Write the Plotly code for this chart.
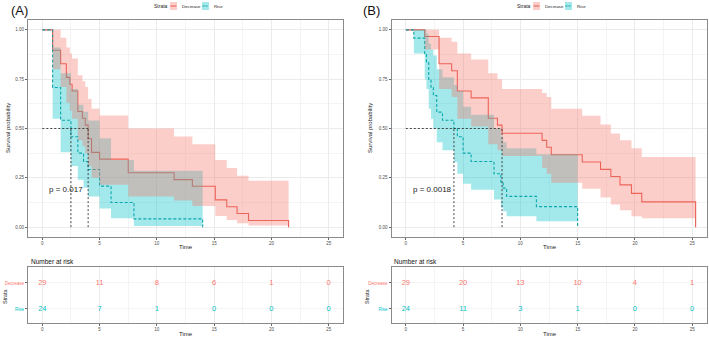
import plotly.graph_objects as go

# ---------------- data ----------------
# Panel A
A_dec_t  = [0, 0.9, 1.6, 2.1, 2.4, 2.6, 3.1, 3.5, 3.75, 4.0, 4.3, 5.0, 7.5, 11.5, 13.1, 15.1, 16.1, 17.0, 18.0, 21.5]
A_dec_s  = [1.0, 0.897, 0.828, 0.759, 0.724, 0.690, 0.586, 0.552, 0.517, 0.448, 0.379, 0.345, 0.276, 0.241, 0.207, 0.138, 0.103, 0.069, 0.034, 0.0]
A_dec_up = [1.0, 1.0, 0.96, 0.91, 0.88, 0.855, 0.77, 0.74, 0.71, 0.65, 0.60, 0.566, 0.50, 0.46, 0.42, 0.34, 0.30, 0.26, 0.235, 0.235]
A_dec_lo = [1.0, 0.80, 0.71, 0.63, 0.59, 0.55, 0.44, 0.41, 0.375, 0.31, 0.25, 0.215, 0.155, 0.135, 0.107, 0.056, 0.036, 0.02, 0.008, 0.008]

A_rise_t  = [0, 0.9, 1.6, 2.5, 3.1, 3.6, 4.0, 5.0, 6.0, 8.0, 14.0]
A_rise_s  = [1.0, 0.708, 0.542, 0.458, 0.375, 0.333, 0.292, 0.208, 0.125, 0.042, 0.0]
A_rise_up = [1.0, 0.91, 0.78, 0.70, 0.62, 0.585, 0.54, 0.45, 0.34, 0.286, 0.286]
A_rise_lo = [1.0, 0.55, 0.38, 0.31, 0.24, 0.20, 0.155, 0.095, 0.045, 0.006, 0.006]

A_medians = [2.5, 4.0]
A_pval = "p = 0.017"

# Panel B
B_dec_t  = [0, 1.65, 2.9, 4.0, 4.5, 5.7, 7.2, 8.0, 8.4, 11.9, 12.3, 12.7, 15.4, 17.0, 17.9, 18.7, 19.7, 20.6, 25.3]
B_dec_s  = [1.0, 0.966, 0.828, 0.793, 0.690, 0.655, 0.552, 0.517, 0.476, 0.440, 0.405, 0.367, 0.330, 0.293, 0.257, 0.214, 0.171, 0.128, 0.0]
B_dec_up = [1.0, 1.0, 0.96, 0.94, 0.88, 0.85, 0.78, 0.75, 0.70, 0.68, 0.66, 0.60, 0.565, 0.52, 0.475, 0.44, 0.40, 0.355, 0.355]
B_dec_lo = [1.0, 0.90, 0.70, 0.66, 0.55, 0.51, 0.42, 0.39, 0.36, 0.30, 0.27, 0.225, 0.195, 0.15, 0.115, 0.085, 0.055, 0.045, 0.045]

B_rise_t  = [0, 0.7, 1.65, 1.8, 2.0, 2.2, 2.4, 2.7, 3.2, 4.2, 4.5, 5.0, 5.7, 7.7, 8.3, 8.5, 8.8, 11.4, 15.0]
B_rise_s  = [1.0, 0.958, 0.875, 0.833, 0.750, 0.708, 0.667, 0.583, 0.542, 0.500, 0.458, 0.375, 0.333, 0.271, 0.229, 0.198, 0.156, 0.104, 0.0]
B_rise_up = [1.0, 1.0, 1.0, 0.98, 0.93, 0.90, 0.87, 0.80, 0.76, 0.72, 0.69, 0.61, 0.57, 0.50, 0.46, 0.43, 0.40, 0.37, 0.37]
B_rise_lo = [1.0, 0.88, 0.75, 0.70, 0.60, 0.55, 0.50, 0.43, 0.39, 0.33, 0.27, 0.22, 0.19, 0.14, 0.10, 0.08, 0.055, 0.03, 0.03]

B_medians = [4.2, 8.4]
B_pval = "p = 0.0018"

# Risk tables
risk_times = [0, 5, 10, 15, 20, 25]
A_risk_dec  = [29, 11, 8, 6, 1, 0]
A_risk_rise = [24, 7, 1, 0, 0, 0]
B_risk_dec  = [29, 20, 13, 10, 4, 1]
B_risk_rise = [24, 11, 3, 1, 0, 0]

strata = ["Decrease", "Rise"]
x_ticks = [0, 5, 10, 15, 20, 25]
y_ticks = [0, 0.25, 0.5, 0.75, 1.0]
y_ticklabels = ["0.00", "0.25", "0.50", "0.75", "1.00"]

# ---------------- styling ----------------
W, H = 709, 340
def px(x): return x / W
def py(y): return 1 - y / H

RED = '#F8766D'
TEAL = '#00BFC4'
RED_LINE = '#E8594F'
TEAL_LINE = '#0E9CA1'
RED_FILL = 'rgba(248,118,109,0.36)'
TEAL_FILL = 'rgba(0,191,196,0.36)'
FONT = "Liberation Sans, Arial, sans-serif"
GRID = '#EBEBEB'
MINOR = '#F4F4F4'
BORDER = '#8A8A8A'

fig = go.Figure()

def line(xa, ya, t, s, color, dash):
    fig.add_trace(go.Scatter(x=t, y=s, mode='lines', xaxis=xa, yaxis=ya,
                             line=dict(color=color, width=1.1, dash=dash, shape='hv'),
                             showlegend=False, hoverinfo='skip'))

def band(xa, ya, t, up, lo, fill):
    fig.add_trace(go.Scatter(x=t[1:], y=lo[1:], mode='lines', xaxis=xa, yaxis=ya,
                             line=dict(width=0, shape='hv'), showlegend=False, hoverinfo='skip'))
    fig.add_trace(go.Scatter(x=t[1:], y=up[1:], mode='lines', xaxis=xa, yaxis=ya,
                             fill='tonexty', fillcolor=fill,
                             line=dict(width=0, shape='hv'), showlegend=False, hoverinfo='skip'))

def medians(xa, ya, meds):
    fig.add_trace(go.Scatter(x=[0, max(meds)], y=[0.5, 0.5], mode='lines', xaxis=xa, yaxis=ya,
                             line=dict(color='#333333', width=0.9, dash='2px,2px'),
                             showlegend=False, hoverinfo='skip'))
    for m in meds:
        fig.add_trace(go.Scatter(x=[m, m], y=[0, 0.5], mode='lines', xaxis=xa, yaxis=ya,
                                 line=dict(color='#333333', width=0.9, dash='2px,2px'),
                                 showlegend=False, hoverinfo='skip'))

panels = [
    ('x', 'y', 'x2', 'y2', A_dec_t, A_dec_s, A_dec_up, A_dec_lo,
     A_rise_t, A_rise_s, A_rise_up, A_rise_lo, A_medians, A_pval, A_risk_dec, A_risk_rise),
    ('x3', 'y3', 'x4', 'y4', B_dec_t, B_dec_s, B_dec_up, B_dec_lo,
     B_rise_t, B_rise_s, B_rise_up, B_rise_lo, B_medians, B_pval, B_risk_dec, B_risk_rise),
]

for (xa, ya, xr, yr, dt, ds, du, dl, rt, rs, ru, rl, meds, pv, rdec, rrise) in panels:
    line(xa, ya, dt, ds, RED_LINE, 'solid')
    line(xa, ya, rt, rs, TEAL_LINE, '3px,2px')
    band(xa, ya, rt, ru, rl, TEAL_FILL)
    band(xa, ya, dt, du, dl, RED_FILL)
    medians(xa, ya, meds)
    fig.add_annotation(x=0.45, y=0.19, xref=xa, yref=ya, text=pv, showarrow=False,
                       xanchor='left', yanchor='middle', font=dict(size=8, color='#222', family=FONT))
    # risk table
    fig.add_trace(go.Scatter(x=risk_times, y=[2] * len(risk_times), mode='text', xaxis=xr, yaxis=yr,
                             text=[str(v) for v in rdec], textfont=dict(size=7.5, color=RED, family=FONT),
                             showlegend=False, hoverinfo='skip'))
    fig.add_trace(go.Scatter(x=risk_times, y=[1] * len(risk_times), mode='text', xaxis=xr, yaxis=yr,
                             text=[str(v) for v in rrise], textfont=dict(size=7.5, color=TEAL, family=FONT),
                             showlegend=False, hoverinfo='skip'))

XR = [-1.25, 26.25]
common_x = dict(range=XR, tickvals=x_ticks, showgrid=True, gridcolor=GRID, gridwidth=0.8,
                minor=dict(dtick=2.5, showgrid=True, gridcolor=MINOR, gridwidth=0.6),
                showline=True, mirror=True, linecolor=BORDER, linewidth=1,
                ticks='outside', ticklen=2, tickcolor='#666', tickwidth=0.8, automargin=False,
                tickfont=dict(size=4.5, color='#4D4D4D', family=FONT), zeroline=False, fixedrange=True)
common_y = dict(range=[-0.05, 1.05], tickvals=y_ticks, ticktext=y_ticklabels, showgrid=True,
                gridcolor=GRID, gridwidth=0.8,
                minor=dict(tickvals=[0.125, 0.375, 0.625, 0.875], showgrid=True, gridcolor=MINOR, gridwidth=0.6),
                showline=True, mirror=True, linecolor=BORDER, linewidth=1,
                ticks='outside', ticklen=2, tickcolor='#666', tickwidth=0.8, automargin=False,
                tickfont=dict(size=4.5, color='#4D4D4D', family=FONT), zeroline=False, fixedrange=True)
risk_y = dict(range=[0.46, 2.615], tickvals=[2, 1],
              ticktext=['<span style="color:%s">%s</span>' % (RED, strata[0]),
                        '<span style="color:%s">%s</span>' % (TEAL, strata[1])],
              showgrid=True, gridcolor=MINOR, gridwidth=0.6,
              showline=True, mirror=True, linecolor=BORDER, linewidth=1,
              ticks='outside', ticklen=2, tickcolor='#666', tickwidth=0.8, automargin=False,
              tickfont=dict(size=4.5, family=FONT), zeroline=False, fixedrange=True)

main_dom_y = [py(237), py(20)]
risk_dom_y = [py(323), py(267)]
A_dom_x = [px(28), px(343)]
B_dom_x = [px(391.5), px(706.5)]

fig.update_layout(
    width=W, height=H, margin=dict(l=0, r=0, t=0, b=0, autoexpand=False),
    paper_bgcolor='white', plot_bgcolor='white', showlegend=False,
    font=dict(family=FONT),
    xaxis=dict(common_x, domain=A_dom_x, anchor='y'),
    yaxis=dict(common_y, domain=main_dom_y, anchor='x'),
    xaxis2=dict(common_x, domain=A_dom_x, anchor='y2'),
    yaxis2=dict(risk_y, domain=risk_dom_y, anchor='x2'),
    xaxis3=dict(common_x, domain=B_dom_x, anchor='y3'),
    yaxis3=dict(common_y, domain=main_dom_y, anchor='x3'),
    xaxis4=dict(common_x, domain=B_dom_x, anchor='y4'),
    yaxis4=dict(risk_y, domain=risk_dom_y, anchor='x4'),
)

def ann(x, y, text, size, color='#222', anchor='center', angle=0):
    fig.add_annotation(x=px(x), y=py(y), xref='paper', yref='paper', text=text, showarrow=False,
                       xanchor=anchor, yanchor='middle', textangle=angle,
                       font=dict(size=size, color=color, family=FONT))

# panel labels
ann(9, 11, "(A)", 13, '#111', 'left')
ann(361, 11, "(B)", 13, '#111', 'left')
# axis titles
ann(8, 128, "Survival probability", 6, '#222', 'center', -90)
ann(370, 128, "Survival probability", 6, '#222', 'center', -90)
ann(186, 247, "Time", 6)
ann(550, 247, "Time", 6)
ann(186, 334, "Time", 6)
ann(550, 334, "Time", 6)
ann(5, 296, "Strata", 5.5, '#222', 'center', -90)
ann(367, 296, "Strata", 5.5, '#222', 'center', -90)
ann(29, 261, "Number at risk", 6.5, '#111', 'left')
ann(392, 261, "Number at risk", 6.5, '#111', 'left')

# legends
def legend(x0):
    ann(x0, 6, "Strata", 5, '#222', 'left')
    k1 = x0 + 18
    fig.add_shape(type='rect', xref='paper', yref='paper', x0=px(k1), x1=px(k1 + 7),
                  y0=py(10), y1=py(2), fillcolor=RED_FILL, line=dict(width=0))
    fig.add_shape(type='line', xref='paper', yref='paper', x0=px(k1 + 0.5), x1=px(k1 + 6.5),
                  y0=py(6), y1=py(6), line=dict(color=RED_LINE, width=1))
    ann(k1 + 10, 6, strata[0], 4.3, '#222', 'left')
    k2 = k1 + 32
    fig.add_shape(type='rect', xref='paper', yref='paper', x0=px(k2), x1=px(k2 + 7),
                  y0=py(10), y1=py(2), fillcolor=TEAL_FILL, line=dict(width=0))
    fig.add_shape(type='line', xref='paper', yref='paper', x0=px(k2 + 0.5), x1=px(k2 + 6.5),
                  y0=py(6), y1=py(6), line=dict(color=TEAL_LINE, width=1, dash='2px,1px'))
    ann(k2 + 10, 6, strata[1], 4.3, '#222', 'left')

legend(152)
legend(515)

fig.write_html("out.html", config={'displayModeBar': False},
               post_script="document.body.style.margin='0';document.body.style.overflow='hidden';")
